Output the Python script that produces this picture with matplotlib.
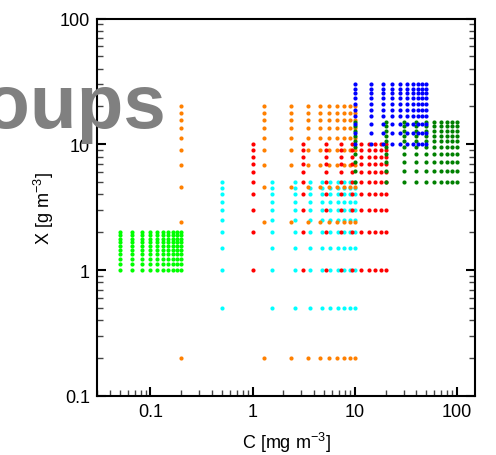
import numpy as np
import matplotlib
matplotlib.use('Agg')
import matplotlib.pyplot as plt

plt.rcParams['font.family'] = ['Liberation Sans', 'DejaVu Sans']
plt.rcParams['mathtext.fontset'] = 'custom'
plt.rcParams['mathtext.rm'] = 'Liberation Sans'

# grupos: valores de C [mg m-3] y X [g m-3]
lime_c = [0.05, 0.0667, 0.0833, 0.1, 0.1167, 0.1333, 0.15, 0.1667, 0.1833, 0.2]
lime_x = [1.0, 1.111, 1.222, 1.333, 1.444, 1.556, 1.667, 1.778, 1.889, 2.0]

cyan_c = [0.5, 1.556, 2.611, 3.667, 4.722, 5.778, 6.833, 7.889, 8.944, 10.0]
cyan_x = [0.5, 1.0, 1.5, 2.0, 2.5, 3.0, 3.5, 4.0, 4.5, 5.0]

orange_c = [0.2, 1.289, 2.378, 3.467, 4.556, 5.644, 6.733, 7.822, 8.911, 10.0]
orange_x = [0.2, 2.4, 4.6, 6.8, 9.0, 11.2, 13.4, 15.6, 17.8, 20.0]

red_c = [1.0, 3.111, 5.222, 7.333, 9.444, 11.556, 13.667, 15.778, 17.889, 20.0]
red_x = [1, 2, 3, 4, 5, 6, 7, 8, 9, 10]

green_c = [10, 20, 30, 40, 50, 60, 70, 80, 90, 100]
green_x = [5.0, 6.111, 7.222, 8.333, 9.444, 10.556, 11.667, 12.778, 13.889, 15.0]

blue_c = [10.0, 14.44, 18.89, 23.33, 27.78, 32.22, 36.67, 41.11, 45.56, 50.0]
blue_x = [10.0, 12.22, 14.44, 16.67, 18.89, 21.11, 23.33, 25.56, 27.78, 30.0]

grupos = [
    (lime_c, lime_x, '#00ff00'),
    (cyan_c, cyan_x, '#00ffff'),
    (orange_c, orange_x, '#ff8000'),
    (red_c, red_x, '#ff0000'),
    (green_c, green_x, '#008000'),
    (blue_c, blue_x, '#0000ff'),
]

fig = plt.figure(figsize=(4.96, 4.56), dpi=100)
ax = fig.add_axes([0.1956, 0.1294, 0.7621, 0.8278])

for c, x, col in grupos:
    cc, xx = np.meshgrid(c, x)
    ax.scatter(cc.ravel(), xx.ravel(), s=9, color=col, linewidths=0, zorder=3)

ax.set_xscale('log')
ax.set_yscale('log')
ax.set_xlim(0.03, 150)
ax.set_ylim(0.1, 100)
ax.set_xticks([0.1, 1, 10, 100])
ax.set_xticklabels(['0.1', '1', '10', '100'])
ax.set_yticks([0.1, 1, 10, 100])
ax.set_yticklabels(['0.1', '1', '10', '100'])

for s in ax.spines.values():
    s.set_linewidth(1.5)
ax.tick_params(which='major', direction='in', length=6.5, width=1.5,
               right=True, top=False, labelsize=13, pad=5)
ax.tick_params(which='minor', direction='in', length=4.5, width=1.0,
               color='#444444', right=True, top=False)

ax.set_xlabel(r'C [mg m$^{\mathregular{-3}}$]', fontsize=13, labelpad=7)
ax.set_ylabel(r'X [g m$^{\mathregular{-3}}$]', fontsize=13, labelpad=3)

# titulo de la diapositiva, cortado a la izquierda
fig.text(0.335, 0.719, 'Groups', ha='right', va='baseline', fontsize=55,
         fontweight='bold', color='#808080', zorder=10)

fig.savefig('out.png', dpi=100)
